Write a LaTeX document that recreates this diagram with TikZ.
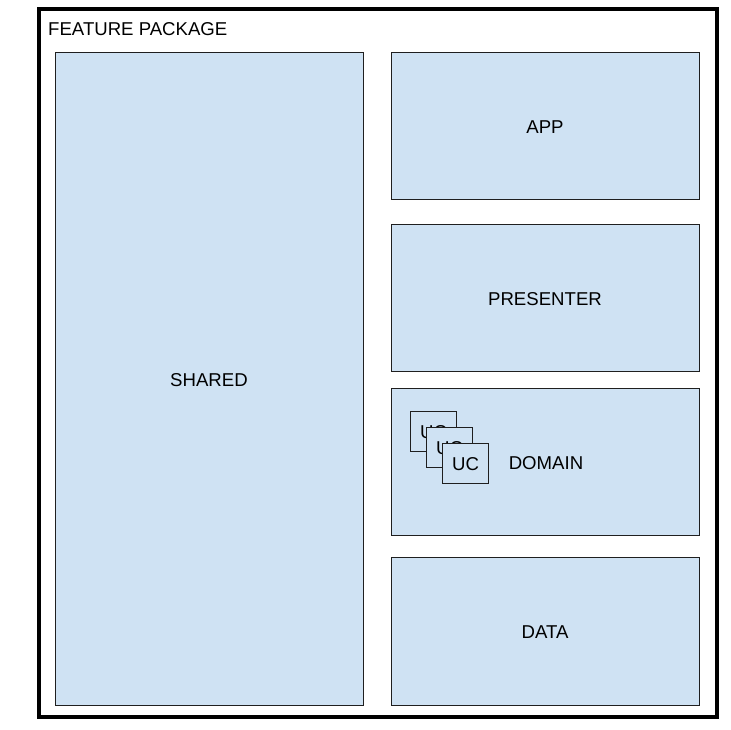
\documentclass[tikz,border=0pt]{standalone}
\usepackage{fontspec}
\setmainfont{Liberation Sans}
\definecolor{boxfill}{HTML}{CFE2F3}
\definecolor{boxline}{HTML}{1F1F1F}
\begin{document}
\begin{tikzpicture}[x=1pt,y=-1pt,
  lbl/.style={font=\fontsize{18.6}{20}\selectfont},
  layer/.style={draw=boxline,line width=1pt,fill=boxfill},
  ucbox/.style={draw=boxline,line width=1pt,fill=boxfill,minimum width=46pt,minimum height=40pt,inner sep=0pt,lbl,anchor=north west,text depth=0pt,yshift=0pt}]
\useasboundingbox (0,0) rectangle (731,729);
\fill[white] (0,0) rectangle (731,729);
\draw[line width=3.5pt,black] (39,9) rectangle (717,717);
\node[anchor=west,inner sep=0pt,lbl] (title) at (48,29) {FEATURE PACKAGE};
\draw[layer] (55,52) rectangle (363,705);
\node[lbl] (shared) at (209,380.5) {SHARED};
\draw[layer] (391,52) rectangle (699,199);
\node[lbl] (app) at (545,127.5) {APP};
\draw[layer] (391,224) rectangle (699,371);
\node[lbl] (presenter) at (545,299) {PRESENTER};
\draw[layer] (391,388) rectangle (699,535);
\node[lbl] (domain) at (546,463.5) {DOMAIN};
\draw[layer] (391,557) rectangle (699,705);
\node[lbl] (data) at (545,632.5) {DATA};
\node[ucbox] (uc1) at (410,411) {UC};
\node[ucbox] (uc2) at (426,427) {UC};
\node[ucbox] (uc3) at (442,443) {UC};
\end{tikzpicture}
\end{document}
